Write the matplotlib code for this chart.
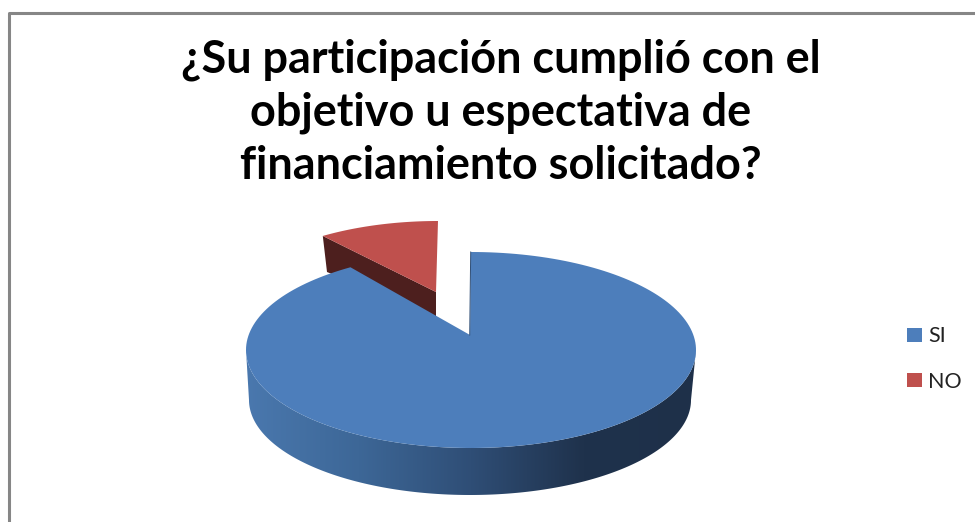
import numpy as np
import matplotlib
matplotlib.use("Agg")
import matplotlib.pyplot as plt
from matplotlib.patches import Polygon, Patch
from matplotlib.colors import LinearSegmentedColormap

title = "¿Su participación cumplió con el\nobjetivo u espectativa de\nfinanciamiento solicitado?"
categories = ["SI", "NO"]
values = [91, 9]

BLUE = "#4d7ebb"
RED = "#bf504d"
DARK_RED = "#4d1f1e"
GREY = "#868686"

# angle of each slice, clockwise from 12 o'clock
si_angle = 360 * values[0] / sum(values)
no_angle = 360 * values[1] / sum(values)


def arc(cx, cy, rx, ry, t0, t1, n=200):
    t = np.radians(np.linspace(t0, t1, n))
    return np.column_stack([cx + rx * np.sin(t), cy - ry * np.cos(t)])


fig = plt.figure(figsize=(9.75, 5.22), dpi=100)
ax = fig.add_axes([0, 0, 1, 1])
ax.set_axis_off()

# chart border, runs off the picture on the right and at the bottom
ax.plot([9.2, 9.2, 980], [530, 12.5, 12.5], color=GREY, lw=2.2, solid_capstyle="butt")

ax.text(501, 113, title, ha="center", va="center", fontsize=32.4, fontweight="bold",
        family="Lato", color="black", linespacing=1.32)

# NO slice, pulled out to the upper left
no_top = arc(438, 317, 215, 96, -no_angle, 0)
no_apex = (436, 292)
side = Polygon([no_top[0], no_apex, (436, 317), (327, 272)], closed=True, fc=DARK_RED, ec="none", zorder=2)
ax.add_patch(side)
ax.add_patch(Polygon(np.vstack([no_top, no_apex]), closed=True, fc=RED, ec="none", zorder=3))

# side wall of SI with the left to right shading
wall_top = arc(471, 350, 225, 98, 90, 270)
wall_base = arc(470, 400, 221, 95, 270, 90)
wall = Polygon(np.vstack([wall_top, wall_base]), closed=True, fc="none", ec="none", zorder=4)
ax.add_patch(wall)
shade = LinearSegmentedColormap.from_list("wall", ["#4a78ae", "#3d6797", "#2f4e76", "#1f324c", "#1e3049"],)
img = ax.imshow(np.linspace(0, 1, 256).reshape(1, -1), cmap=shade, extent=(246, 696, 500, 340),
                aspect="auto", zorder=4)
img.set_clip_path(wall)

# SI slice top
si_top = arc(471, 350, 225, 98, 0, si_angle)
si_apex = (470, 335)
ax.add_patch(Polygon(np.vstack([si_top, si_apex]), closed=True, fc=BLUE, ec="none", zorder=5))
ax.plot([si_top[0][0] - 0.3, si_apex[0] - 0.3], [si_top[0][1], si_apex[1]], color="#2f4e76", lw=0.7, zorder=5)

ax.set_xlim(0, 975)
ax.set_ylim(522, 0)

handles = [Patch(fc=BLUE, ec="none"), Patch(fc=RED, ec="none")]
ax.legend(handles, categories, loc="center left", bbox_to_anchor=(907 / 975, 1 - 359 / 522), frameon=False,
          prop={"family": "Lato", "size": 15.5}, handlelength=0.7, handleheight=0.58, handletextpad=0.28,
          labelspacing=1.17, borderpad=0, borderaxespad=0, labelcolor="#222222")

fig.savefig("out.png", dpi=100)
